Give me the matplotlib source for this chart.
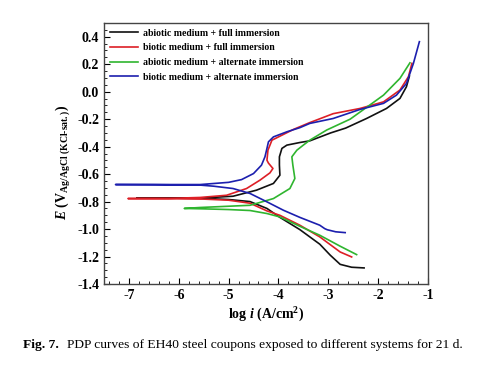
import matplotlib
matplotlib.use("Agg")
import matplotlib.pyplot as plt
from matplotlib.ticker import MultipleLocator

plt.rcParams['font.family'] = ['Liberation Serif', 'DejaVu Serif']
plt.rcParams['mathtext.fontset'] = 'custom'
plt.rcParams['mathtext.rm'] = 'Liberation Serif:bold'
plt.rcParams['mathtext.it'] = 'Liberation Serif:bold:italic'
plt.rcParams['mathtext.bf'] = 'Liberation Serif:bold'

labels = ["abiotic medium + full immersion",
          "biotic medium + full immersion",
          "abiotic medium + alternate immersion",
          "biotic medium + alternate immersion"]
colors = ["#111111", "#dd1f26", "#2fb52f", "#1c1fae"]

# log i, E : cathodic end -> Ecorr -> anodic end
black_x = [-2.28, -2.53, -2.76, -2.96, -3.17, -3.57, -3.97, -4.23, -4.57, -5.0, -5.5, -6.2, -6.84,
           -6.2, -5.57, -4.91, -4.44, -4.10, -3.97, -3.98, -3.98, -3.93, -3.83, -3.57, -3.37,
           -2.95, -2.65, -2.23, -1.83, -1.56, -1.43, -1.37]
black_y = [-1.283, -1.278, -1.257, -1.19, -1.11, -1.004, -0.915, -0.85, -0.80, -0.785, -0.777, -0.775, -0.773,
           -0.775, -0.775, -0.761, -0.717, -0.668, -0.608, -0.535, -0.474, -0.413, -0.389, -0.37, -0.358,
           -0.30, -0.265, -0.195, -0.122, -0.049, 0.036, 0.114]

red_x = [-2.53, -2.76, -3.17, -3.57, -3.97, -4.23, -4.57, -5.0, -5.5, -6.2, -7.02,
         -6.2, -5.57, -5.04, -4.64, -4.37, -4.17, -4.11, -4.20, -4.23, -4.21, -4.13, -3.97,
         -3.70, -3.37, -2.90, -2.36, -1.89, -1.56, -1.39, -1.32]
red_y = [-1.203, -1.167, -1.057, -0.972, -0.90, -0.868, -0.812, -0.79, -0.782, -0.779, -0.778,
         -0.777, -0.77, -0.754, -0.705, -0.644, -0.591, -0.559, -0.52, -0.499, -0.426, -0.353, -0.324,
         -0.275, -0.225, -0.16, -0.122, -0.074, 0.012, 0.109, 0.206]

green_x = [-2.43, -2.76, -3.17, -3.57, -3.97, -4.23, -4.57, -5.0, -5.5, -5.89,
           -5.57, -4.57, -4.10, -3.77, -3.67, -3.71, -3.73, -3.63, -3.50, -3.37,
           -3.03, -2.56, -2.23, -1.89, -1.56, -1.36]
green_y = [-1.186, -1.125, -1.045, -0.98, -0.912, -0.887, -0.865, -0.858, -0.853, -0.85,
           -0.843, -0.827, -0.778, -0.705, -0.632, -0.535, -0.474, -0.426, -0.389, -0.353,
           -0.279, -0.20, -0.114, -0.025, 0.097, 0.21]

blue_x = [-2.66, -2.85, -3.02, -3.07, -3.17, -3.57, -3.90, -4.23, -4.57, -4.91, -5.3, -5.57, -6.5, -7.27,
          -6.5, -5.57, -5.0, -4.74, -4.50, -4.34, -4.27, -4.23, -4.20, -4.10, -3.83, -3.57,
          -3.37, -2.90, -2.36, -1.89, -1.63, -1.43, -1.29, -1.17]
blue_y = [-1.026, -1.02, -1.005, -0.997, -0.972, -0.915, -0.863, -0.802, -0.741, -0.705, -0.688, -0.68, -0.677, -0.676,
          -0.676, -0.676, -0.66, -0.64, -0.596, -0.535, -0.474, -0.413, -0.365, -0.329, -0.292, -0.262,
          -0.231, -0.195, -0.129, -0.085, -0.025, 0.06, 0.206, 0.364]

curves = [(black_x, black_y), (red_x, red_y), (green_x, green_y), (blue_x, blue_y)]

fig = plt.figure(figsize=(4.84, 3.71), dpi=100)
ax = fig.add_axes([0.215, 0.2345, 0.669, 0.7035])

for (xs, ys), c, lab in zip(curves, colors, labels):
    ax.plot(xs, ys, color=c, lw=1.2, label=lab)

ax.set_xlim(-7.5, -1)
ax.set_ylim(-1.4, 0.5)
ax.xaxis.set_major_locator(MultipleLocator(1))
ax.xaxis.set_minor_locator(MultipleLocator(0.2))
ax.yaxis.set_major_locator(MultipleLocator(0.2))
ax.yaxis.set_minor_locator(MultipleLocator(0.05))
ax.tick_params(which='both', direction='in', top=False, right=False)
ax.tick_params(which='major', length=4, width=0.8, labelsize=10)
ax.tick_params(which='minor', length=2, width=0.6)
ax.set_yticks([0.4, 0.2, 0.0, -0.2, -0.4, -0.6, -0.8, -1.0, -1.2, -1.4])
ax.set_yticklabels(["0.4", "0.2", "0.0", "-0.2", "-0.4", "-0.6", "-0.8", "-1.0", "-1.2", "-1.4"])
ax.set_xticks([-7, -6, -5, -4, -3, -2, -1])
ax.set_xticklabels(["-7", "-6", "-5", "-4", "-3", "-2", "-1"])
for t in ax.get_xticklabels() + ax.get_yticklabels():
    t.set_fontweight('bold')
for s in ax.spines.values():
    s.set_color('#444444')
    s.set_linewidth(1.0)

ax.set_xlabel(r'log $i$ (A/cm$^{2}$)', fontsize=10, fontweight='bold', labelpad=3)
ax.set_ylabel(r'$E$ (V$_{\mathrm{Ag/AgCl\ (KCl\text{-}sat.)}}$)', fontsize=10, fontweight='bold')
ax.yaxis.set_label_coords(-0.10, 0.465)

leg = ax.legend(loc='upper left', bbox_to_anchor=(0.0, 1.0), frameon=False,
                prop={'weight': 'bold', 'size': 7}, handlelength=2.9, handletextpad=0.5,
                labelspacing=0.58, borderaxespad=0.2)

fig.text(0.048, 0.062, r'Fig. 7.', fontsize=9.7, fontweight='bold')
fig.text(0.139, 0.062, 'PDP curves of EH40 steel coupons exposed to different systems for 21 d.', fontsize=9.7)

fig.savefig('out.png', dpi=100)
